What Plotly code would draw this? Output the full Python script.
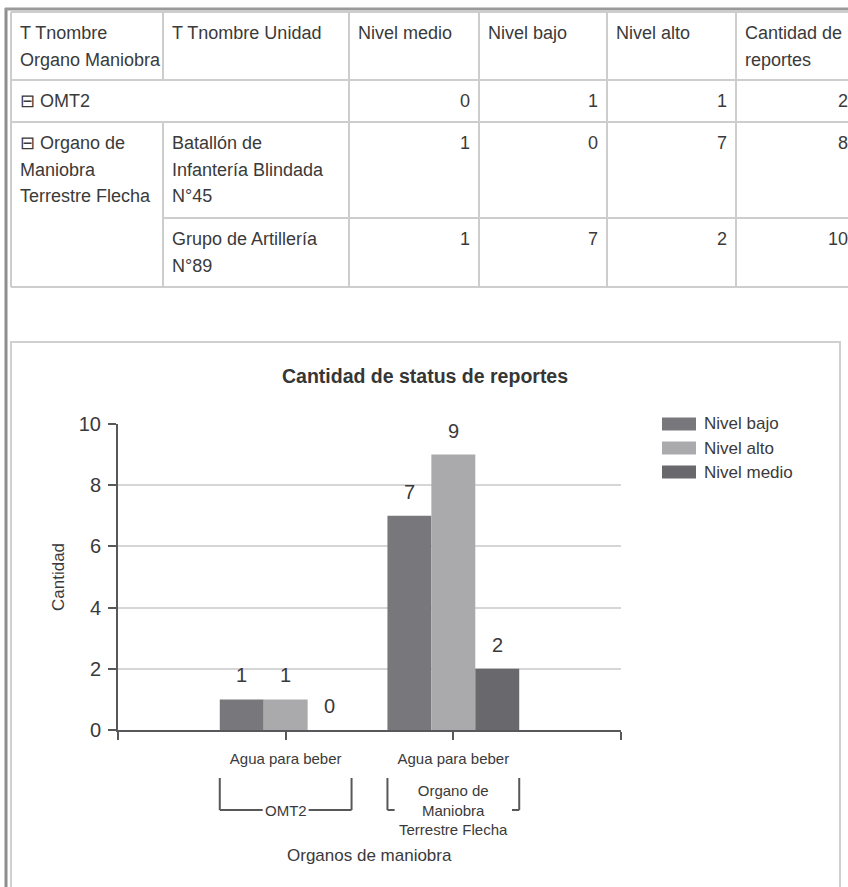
import plotly.graph_objects as go

W, H = 848, 887

# ---------------- table data ----------------
tabla_encabezados = ["T Tnombre<br>Organo Maniobra", "T Tnombre Unidad", "Nivel medio",
                     "Nivel bajo", "Nivel alto", "Cantidad de<br>reportes"]
tabla_organo = ["⊟ OMT2", "⊟ Organo de<br>Maniobra<br>Terrestre Flecha"]
tabla_unidad = ["", "Batallón de<br>Infantería Blindada<br>N°45", "Grupo de Artillería<br>N°89"]
tabla_nivel_medio = [0, 1, 1]
tabla_nivel_bajo = [1, 0, 7]
tabla_nivel_alto = [1, 7, 2]
tabla_cantidad = [2, 8, 10]

# ---------------- chart data ----------------
titulo = "Cantidad de status de reportes"
categorias = ["Agua para beber", "Agua para beber"]
organos = ["OMT2", "Organo de<br>Maniobra<br>Terrestre Flecha"]
series_nombres = ["Nivel bajo", "Nivel alto", "Nivel medio"]
nivel_bajo = [1, 7]
nivel_alto = [1, 9]
nivel_medio = [0, 2]
y_ticks = [0, 2, 4, 6, 8, 10]
eje_x_titulo = "Organos de maniobra"
eje_y_titulo = "Cantidad"

# ---------------- styles ----------------
series_valores = [nivel_bajo, nivel_alto, nivel_medio]
series_colores = ["#78787c", "#aaaaad", "#69696d"]
TABLE_FONT = "Liberation Sans, Arial, sans-serif"
CHART_FONT = "Liberation Sans, Arial, sans-serif"
TXT = "#3a3a3a"
AXIS = "#58585a"


def px(x):
    return x / W


def py(y):
    return 1 - y / H


shapes = []
annotations = []


def line(x0, y0, x1, y1, color, width):
    shapes.append(dict(type="line", xref="paper", yref="paper",
                       x0=px(x0), y0=py(y0), x1=px(x1), y1=py(y1),
                       line=dict(color=color, width=width)))


def text(x, y, s, size, anchor="left", font=TABLE_FONT, color=TXT, **kw):
    annotations.append(dict(xref="paper", yref="paper", x=px(x), y=py(y), text=s,
                            showarrow=False, xanchor=anchor, yanchor="middle",
                            font=dict(family=font, size=size, color=color), **kw))


# ---------------- page frame ----------------
line(6, 8, 6, H + 5, "#8e8e8e", 3)
line(5, 9, W + 5, 9, "#9a9a9a", 3)

# ---------------- table ----------------
col_x = [11, 163, 349, 479, 607, 736, 857]
row_y = [12, 80, 122, 218, 287]
CELL = "#cdcdcd"
LH = 26.5
FS = 18
PAD = 7
FIRST = 21

for i, yv in enumerate(row_y):
    x0 = col_x[1] if i == 3 else col_x[0]
    line(x0, yv, col_x[-1], yv, CELL, 2)
for j, xv in enumerate(col_x):
    if j == 1:
        line(xv, row_y[0], xv, row_y[1], CELL, 2)
        line(xv, row_y[2], xv, row_y[4], CELL, 2)
    else:
        line(xv, row_y[0], xv, row_y[4], CELL, 2)


def cell_text(col, row_top, s, right=False):
    for k, part in enumerate(s.split("<br>")):
        if right:
            text(col_x[col + 1] - PAD, row_top + FIRST + k * LH, part, FS, "right")
        else:
            text(col_x[col] + PAD, row_top + FIRST + k * LH, part, FS, "left")


for c, h in enumerate(tabla_encabezados):
    cell_text(c, row_y[0], h)

cell_text(0, row_y[1], tabla_organo[0])
cell_text(0, row_y[2], tabla_organo[1])
for r in range(3):
    top = row_y[r + 1]
    if tabla_unidad[r]:
        cell_text(1, top, tabla_unidad[r])
    for c, arr in zip([2, 3, 4, 5], [tabla_nivel_medio, tabla_nivel_bajo, tabla_nivel_alto, tabla_cantidad]):
        cell_text(c, top, str(arr[r]), right=True)

# ---------------- chart frame ----------------
shapes.append(dict(type="rect", xref="paper", yref="paper",
                   x0=px(11), y0=py(342), x1=px(840), y1=py(H + 10),
                   line=dict(color="#d0d0d0", width=2), fillcolor="rgba(0,0,0,0)"))

text(425, 376, "<b>" + titulo + "</b>", 19.5, "center", CHART_FONT, "#363636")

# ---------------- bars ----------------
BARGAP = 0.214
bw = (1 - BARGAP) / 3
xs = list(range(len(categorias)))

fig = go.Figure()
for k, (name, vals, col) in enumerate(zip(series_nombres, series_valores, series_colores)):
    fig.add_trace(go.Bar(x=xs, y=vals, name=name, marker=dict(color=col, line=dict(width=0)),
                         showlegend=False))
    for i, v in enumerate(vals):
        annotations.append(dict(xref="x", yref="y", x=i + (k - 1) * bw, y=v, text=str(v),
                                showarrow=False, yshift=24, xanchor="center", yanchor="middle",
                                font=dict(family=CHART_FONT, size=20, color=TXT)))

for k, (name, col) in enumerate(zip(series_nombres, series_colores)):
    yc = 424 + 24 * k
    shapes.append(dict(type="rect", xref="paper", yref="paper",
                       x0=px(662), x1=px(696), y0=py(yc - 6.5), y1=py(yc + 6.5),
                       fillcolor=col, line=dict(width=0)))
    text(702, yc, name, 17, "left", CHART_FONT, TXT)

half = (1 - BARGAP) / 2
gaps = [0.137, 0.35]
for i, org in enumerate(organos):
    x0, x1 = i - half, i + half
    for xv in (x0, x1):
        shapes.append(dict(type="line", xref="x", yref="paper", x0=xv, x1=xv,
                           y0=py(778), y1=py(810), line=dict(color=AXIS, width=2)))
    shapes.append(dict(type="line", xref="x", yref="paper", x0=x0, x1=i - gaps[i],
                       y0=py(810), y1=py(810), line=dict(color=AXIS, width=2)))
    shapes.append(dict(type="line", xref="x", yref="paper", x0=i + gaps[i], x1=x1,
                       y0=py(810), y1=py(810), line=dict(color=AXIS, width=2)))
    annotations.append(dict(xref="x", yref="paper", x=i, y=py(810), text=org, showarrow=False,
                            xanchor="center", yanchor="middle",
                            font=dict(family=CHART_FONT, size=15, color=TXT)))

text(369, 855, eje_x_titulo, 17, "center", CHART_FONT, TXT)
text(58, 577, eje_y_titulo, 17, "center", CHART_FONT, TXT, textangle=-90)

fig.update_layout(
    width=W, height=H, autosize=False,
    margin=dict(l=0, r=0, t=0, b=0, pad=0, autoexpand=False),
    paper_bgcolor="white", plot_bgcolor="white",
    barmode="group", bargap=BARGAP, bargroupgap=0,
    shapes=shapes, annotations=annotations,
    xaxis=dict(domain=[px(118), px(621)], range=[-1, 2], automargin=False,
               tickvals=[-1] + xs + [2], ticktext=[""] + categorias + [""],
               ticks="outside", ticklen=8, tickwidth=2, tickcolor=AXIS,
               showline=True, linecolor=AXIS, linewidth=2, showgrid=False, zeroline=False,
               ticklabelstandoff=6,
               tickfont=dict(family=CHART_FONT, size=15, color=TXT)),
    yaxis=dict(domain=[py(730), py(424)], range=[0, 10], tickvals=y_ticks, automargin=False,
               ticks="outside", ticklen=8, tickwidth=2, tickcolor=AXIS,
               showline=True, linecolor=AXIS, linewidth=2,
               showgrid=True, gridcolor="#d6d6d6", gridwidth=1.5, zeroline=False,
               ticklabelstandoff=3,
               tickfont=dict(family=CHART_FONT, size=20, color=TXT)),
)

fig.write_html("out.html", config={"responsive": False, "displayModeBar": False},
               post_script="document.body.style.margin='0';document.body.style.overflow='hidden';")
